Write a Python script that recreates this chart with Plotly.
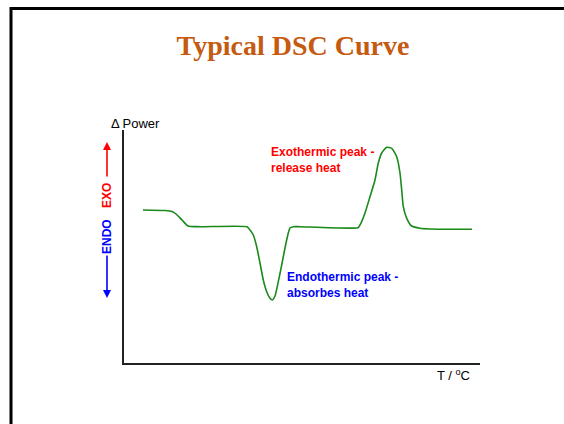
import plotly.graph_objects as go

# Data (arbitrary units: temperature vs delta power)
temperature = [19, 41, 48, 52, 58, 64, 76, 123, 126, 129.3, 132.7, 136, 139.3, 142.7, 146, 148.3,
               151, 154.3, 157.7, 161, 164.3, 166, 169.3, 176, 234, 236, 241, 246, 251, 254.3,
               257.7, 262.7, 267.7, 272.7, 276, 277.7, 279.3, 282.7, 287.7, 296, 306, 348]
power = [153, 152.5, 151.5, 149, 143, 137, 136.3, 136.3, 133, 128, 116.3, 100, 83, 71.3, 64.7, 63,
         67, 81.3, 98, 115, 130, 135, 136.3, 136.3, 135.3, 138, 150, 166.3, 183, 200,
         210, 215.7, 214.7, 206.3, 190, 173, 156.3, 144.7, 137, 134.7, 134, 133.7]

W, H = 564, 424
L, R, T, B = 124, 84, 130, 61
PW, PH = W - L - R, H - T - B

def px(x):
    return (x - L) / PW

def py(y):
    return (H - B - y) / PH

fig = go.Figure()
fig.add_trace(go.Scatter(x=temperature, y=power, mode="lines",
                         line=dict(color="#1a8a1a", width=1.6, shape="spline", smoothing=0.5),
                         hoverinfo="skip", showlegend=False))

fig.update_layout(
    width=W, height=H,
    margin=dict(l=L, r=R, t=T, b=B),
    paper_bgcolor="white", plot_bgcolor="white",
    xaxis=dict(range=[0, PW], showline=True, linecolor="#222", linewidth=1.5,
               showgrid=False, zeroline=False, showticklabels=False, ticks=""),
    yaxis=dict(range=[0, PH], showline=True, linecolor="#222", linewidth=1.5,
               showgrid=False, zeroline=False, showticklabels=False, ticks=""),
    title=dict(text="<b>Typical DSC Curve</b>", x=px(293), xref="paper", xanchor="center",
               y=1 - 45 / H, yanchor="middle",
               font=dict(family="Liberation Serif", size=28, color="#c55a11")),
)

sans = "Liberation Sans"
ann = [
    dict(text="Δ Power", x=px(109), y=py(123), xanchor="left", yanchor="middle",
         font=dict(family=sans, size=13, color="black")),
    dict(text="T / <sup>o</sup>C", x=px(435), y=py(375), xanchor="left", yanchor="middle",
         font=dict(family=sans, size=13, color="black")),
    dict(text="<b>Exothermic peak -<br>release heat</b>", x=px(269), y=py(143), xanchor="left",
         yanchor="top", align="left", font=dict(family=sans, size=12, color="#ff0000")),
    dict(text="<b>Endothermic peak -<br>absorbes heat</b>", x=px(285), y=py(268), xanchor="left",
         yanchor="top", align="left", font=dict(family=sans, size=12, color="#0000ff")),
    dict(text="<b>EXO</b>", x=px(107), y=py(196), textangle=-90, xanchor="center", yanchor="middle",
         font=dict(family=sans, size=12, color="#ff0000")),
    dict(text="<b>ENDO</b>", x=px(107), y=py(237), textangle=-90, xanchor="center", yanchor="middle",
         font=dict(family=sans, size=12, color="#0000ff")),
]
for a in ann:
    fig.add_annotation(xref="paper", yref="paper", showarrow=False, **a)

# arrows
fig.add_annotation(xref="paper", yref="paper", x=px(107), y=py(142), ax=0, ay=36, text="",
                   showarrow=True, arrowhead=2, arrowsize=1, arrowwidth=1.6, arrowcolor="#ff0000")
fig.add_annotation(xref="paper", yref="paper", x=px(107), y=py(298), ax=0, ay=-44, text="",
                   showarrow=True, arrowhead=2, arrowsize=1, arrowwidth=1.6, arrowcolor="#0000ff")

# slide frame
fig.add_shape(type="line", xref="paper", yref="paper", x0=px(11), x1=px(570), y0=py(8.5), y1=py(8.5),
              line=dict(color="black", width=3))
fig.add_shape(type="line", xref="paper", yref="paper", x0=px(11), x1=px(11), y0=py(7), y1=py(430),
              line=dict(color="black", width=3))

fig.write_html("out.html", config={"displayModeBar": False},
               post_script="document.body.style.margin='0';document.body.style.overflow='hidden';")
